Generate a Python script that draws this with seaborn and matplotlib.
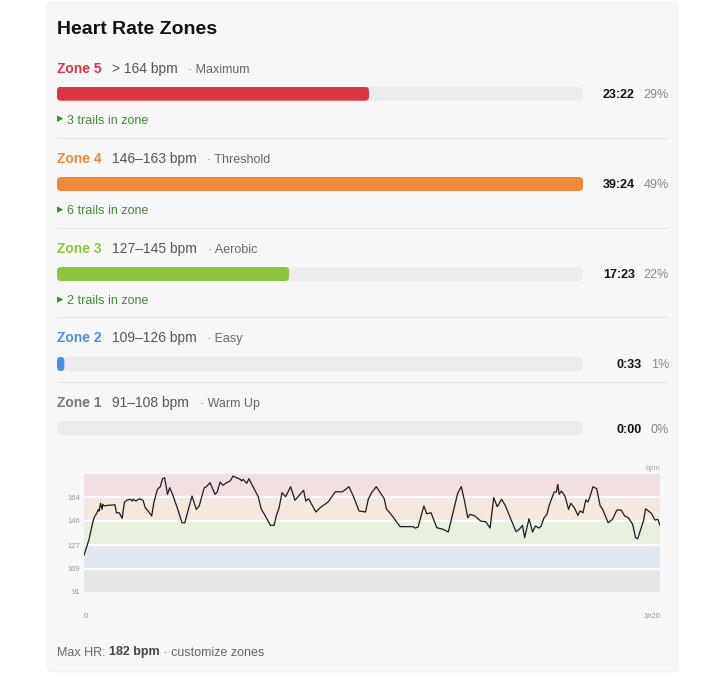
import seaborn as sns
import matplotlib.pyplot as plt
from matplotlib.patches import FancyBboxPatch

# zone summary
zones = ["Zone 5", "Zone 4", "Zone 3", "Zone 2", "Zone 1"]
zone_ranges = ["> 164 bpm", "146–163 bpm", "127–145 bpm", "109–126 bpm", "91–108 bpm"]
zone_names = ["Maximum", "Threshold", "Aerobic", "Easy", "Warm Up"]
zone_times = ["23:22", "39:24", "17:23", "0:33", "0:00"]
zone_seconds = [1402, 2364, 1043, 33, 0]
zone_pcts = ["29%", "49%", "22%", "1%", "0%"]
zone_trails = [3, 6, 2, 0, 0]
zone_colors = ["#dc3545", "#f0883e", "#8cc43f", "#4a90e2", "#777777"]

# heart rate trace (bands bottom -> top)
band_edges = [91, 109, 127, 146, 164, 182]
band_colors = ["#e7e7e7", "#e0e8f2", "#e8f0e0", "#f5e8df", "#f3dfe2"]
hr_ticks = [91, 109, 127, 146, 164]
hr_minutes = [0.0, 0.7, 1.2, 1.4, 1.8, 2.0, 2.1, 2.3, 2.5, 2.6, 2.8, 3.2, 3.8, 4.3, 4.5, 4.9,
              5.3, 5.6, 5.9, 6.4, 6.7, 6.8, 7.2, 7.7, 8.2, 8.5, 8.9, 9.4, 9.7, 10.2, 10.6,
              10.9, 11.2, 11.6, 11.9, 12.3, 13.1, 13.6, 14.0, 14.5, 15.0, 15.6, 16.0, 16.7,
              17.0, 17.5, 18.2, 18.5, 18.9, 19.3, 19.8, 20.3, 20.7, 21.2, 21.7, 21.9, 22.1,
              22.6, 22.9, 23.3, 24.2, 24.6, 25.4, 25.9, 26.4, 26.7, 27.1, 27.5, 28.0, 28.7,
              29.3, 30.0, 30.5, 30.8, 31.2, 32.2, 32.8, 33.9, 34.9, 35.9, 36.8, 37.4, 38.2,
              39.1, 39.5, 40.0, 40.6, 41.7, 42.0, 43.0, 43.9, 45.7, 46.0, 46.4, 47.2, 47.6,
              48.2, 49.0, 49.9, 50.6, 51.3, 51.9, 52.4, 52.8, 53.3, 53.6, 54.3, 55.1, 55.8,
              56.4, 56.9, 57.4, 58.0, 58.5, 59.2, 60.0, 60.5, 60.9, 61.2, 61.8, 62.3, 62.7,
              63.2, 63.5, 63.9, 64.3, 64.6, 65.0, 65.3, 65.6, 65.8, 66.0, 66.3, 66.8, 67.3,
              67.6, 68.1, 68.6, 68.9, 69.3, 69.7, 70.0, 70.3, 70.7, 71.2, 71.7, 72.0, 72.8,
              73.4, 74.0, 74.6, 75.1, 75.6, 76.2, 76.6, 76.9, 77.7, 78.0, 78.8, 79.3, 79.7, 80.0]
hr_bpm = [119.3, 131.6, 144.4, 148.3, 152.1, 154.7, 153.4, 159.4, 154.7, 158.6, 157.3, 157.8,
          158.0, 158.3, 152.1, 152.1, 147.8, 159.9, 161.7, 162.5, 161.2, 162.5, 161.2, 162.9,
          161.7, 156.0, 153.5, 149.6, 159.9, 170.2, 172.2, 178.4, 179.1, 166.3, 171.4, 166.3,
          153.5, 144.4, 144.4, 154.7, 165.0, 154.7, 157.3, 171.4, 172.2, 175.3, 166.3, 168.1,
          175.8, 173.3, 175.3, 176.6, 180.4, 179.1, 177.9, 176.6, 177.9, 174.8, 178.4, 174.0,
          164.5, 155.2, 147.5, 142.4, 142.4, 149.6, 156.0, 167.6, 164.5, 172.2, 161.7, 166.3,
          169.4, 161.2, 162.9, 152.7, 156.0, 160.4, 168.3, 168.3, 172.2, 165.0, 153.5, 152.7,
          162.9, 168.0, 172.2, 162.9, 155.2, 148.3, 141.4, 141.4, 140.3, 141.1, 157.3, 151.4,
          152.1, 140.6, 139.3, 137.3, 153.5, 167.1, 172.2, 162.5, 148.3, 150.9, 149.6, 145.7,
          145.2, 140.3, 163.7, 156.8, 162.5, 157.8, 148.3, 137.6, 139.6, 142.4, 132.9, 147.5,
          137.3, 141.9, 140.3, 141.9, 148.3, 150.9, 157.8, 163.7, 168.1, 168.1, 174.0, 166.3,
          168.9, 165.0, 154.7, 159.4, 156.0, 150.1, 153.5, 152.1, 162.0, 160.4, 165.0, 172.2,
          170.7, 157.3, 155.2, 144.4, 147.0, 154.2, 154.2, 149.6, 148.3, 143.2, 132.9, 132.1,
          145.7, 155.2, 151.7, 146.5, 147.0, 142.4]
max_hr = "182 bpm"

W, H = 727, 676
sns.set_theme(style="white")
plt.rcParams['font.family'] = ['Liberation Sans', 'DejaVu Sans']

fig = plt.figure(figsize=(W / 100, H / 100), dpi=100)
fig.patch.set_facecolor("white")

# full-figure axes in pixel units, used for the card and the text
bg = fig.add_axes([0, 0, 1, 1])
bg.set_xlim(0, W)
bg.set_ylim(H, 0)
bg.axis('off')
bg.add_patch(FancyBboxPatch((47, 2), 631, 670, boxstyle="round,pad=0,rounding_size=6",
                            fc="#f7f7f7", ec="#f2f2f2", lw=0.6))


def px_axes(x0, y0, x1, y1):
    return fig.add_axes([x0 / W, 1 - y1 / H, (x1 - x0) / W, (y1 - y0) / H])


def round_bars(ax, radius=4):
    pos = ax.get_position()
    x0, x1 = ax.get_xlim()
    y0, y1 = ax.get_ylim()
    sx = abs(x1 - x0) / (pos.width * W)
    sy = abs(y1 - y0) / (pos.height * H)
    for p in list(ax.patches):
        x, y, w, h = p.get_x(), p.get_y(), p.get_width(), p.get_height()
        fc = p.get_facecolor()
        p.remove()
        if w <= 0:
            continue
        r = min(radius, w / sx / 2, abs(h) / sy / 2)
        ax.add_patch(FancyBboxPatch((x, y), w, h, boxstyle=f"round,pad=0,rounding_size={r * sx}",
                                    mutation_aspect=sy / sx, fc=fc, ec='none', lw=0))


renderer = fig.canvas.get_renderer()


def put(x, y, s, **kw):
    t = bg.text(x, y, s, va='baseline', **kw)
    return t.get_window_extent(renderer)


def base(center, size):
    # baseline from the centre of the capitals
    return center + 0.36 * size * 100 / 72


bg.text(57, base(27.3, 14), "Heart Rate Zones", fontsize=14, fontweight='bold',
        color="#111111", va='baseline')

label_y = [68.3, 158, 247.7, 336.7, 402]
bar_y = [93.7, 184, 274, 364, 428.3]
trail_y = [119, 209.5, 299.5]
divider_y = [138, 227.5, 317, 382]
longest = max(zone_seconds)

for i, zone in enumerate(zones):
    ly = base(label_y[i], 10)
    bb = put(57, ly, zone, fontsize=10, fontweight='bold', color=zone_colors[i])
    bb = put(bb.x1 + 10, ly, zone_ranges[i], fontsize=10, color="#555555")
    put(bb.x1 + 11, ly, "· " + zone_names[i], fontsize=9, color="#666666")

    ax = px_axes(57, bar_y[i] - 7, 583, bar_y[i] + 7)
    sns.barplot(x=[longest], y=[zone], orient='h', color="#ececec", saturation=1,
                width=1, errorbar=None, ax=ax)
    sns.barplot(x=[zone_seconds[i]], y=[zone], orient='h', color=zone_colors[i], saturation=1,
                width=1, errorbar=None, ax=ax)
    ax.set_xlim(0, longest)
    ax.axis('off')
    round_bars(ax)

    ty = base(bar_y[i], 9)
    pb = put(669, ty, zone_pcts[i], fontsize=9, color="#888888", ha='right')
    put(pb.x0 - 9, ty, zone_times[i], fontsize=9, fontweight='bold', color="#111111", ha='right')

    if zone_trails[i]:
        tb = base(trail_y[i], 9)
        bg.text(56.5, trail_y[i], "▸", fontsize=9, color="#3f8a33", va='center',
                family=['DejaVu Sans'])
        put(67.3, tb, f"{zone_trails[i]} trails in zone", fontsize=9, color="#3f8a33")

for y in divider_y:
    bg.plot([57, 668], [y, y], color="#e6e6e6", lw=0.8)

# heart rate chart
ch = px_axes(84, 474, 660, 592)
ch.set_facecolor('none')
for lo, hi, c in zip(band_edges[:-1], band_edges[1:], band_colors):
    ch.axhspan(lo, hi, color=c, lw=0, zorder=0)
for y in band_edges[1:-1]:
    ch.axhline(y, color="white", lw=1.2, zorder=0.5)
sns.lineplot(x=hr_minutes, y=hr_bpm, ax=ch, color="#1c1c1c", lw=0.9,
             estimator=None, sort=False)
ch.set_xlim(0, 80)
ch.set_ylim(band_edges[0], band_edges[-1])
ch.set_yticks(hr_ticks)
ch.set_yticklabels([str(v) for v in hr_ticks])
ch.set_xticks([0, 80])
ch.set_xticklabels(["0", "1h20"])
ch.tick_params(axis='y', length=0, pad=2.5, labelsize=5.5, labelcolor="#999999")
ch.tick_params(axis='x', length=0, pad=15, labelsize=5.5, labelcolor="#999999")
xl = ch.get_xticklabels()
xl[0].set_ha('left')
xl[1].set_ha('right')
ch.grid(False)
for s in ch.spines.values():
    s.set_visible(False)
ch.set_xlabel("")
ch.set_ylabel("")
bg.text(660, 468, "bpm", fontsize=5.5, color="#aaaaaa", ha='right', va='center')

# footer
fy = base(651, 9)
bb = put(57, fy, "Max HR: ", fontsize=9, color="#666666")
bb = put(bb.x1, fy, max_hr, fontsize=9, fontweight='bold', color="#444444")
put(bb.x1, fy, " · customize zones", fontsize=9, color="#666666")

fig.savefig("out.png", dpi=100, facecolor=fig.get_facecolor())
